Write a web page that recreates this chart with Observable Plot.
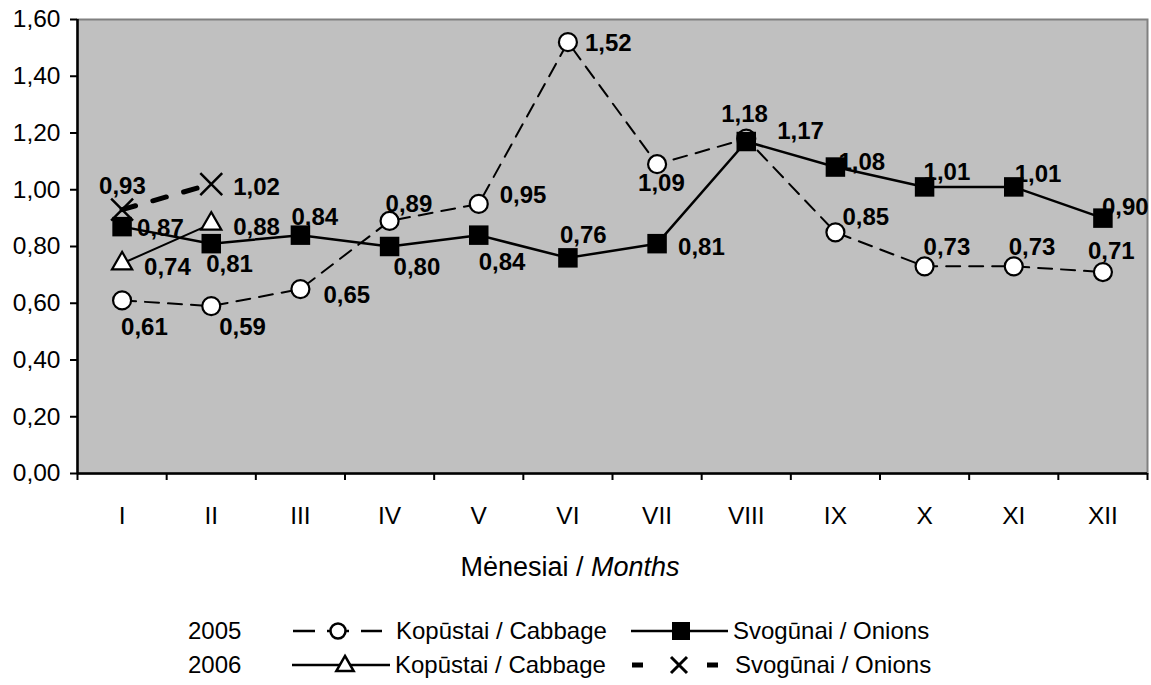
<!DOCTYPE html>
<html><head><meta charset="utf-8">
<script src="https://cdn.jsdelivr.net/npm/d3@7"></script>
<script src="https://cdn.jsdelivr.net/npm/@observablehq/plot@0.6"></script>
<style>
body{margin:0;background:#fff;font-family:"Liberation Sans",Arial,sans-serif;}
#chart{width:1151px;height:685px;position:relative;overflow:hidden;}
#chart svg{display:block;}
.ttl{position:absolute;font-size:27px;line-height:1;white-space:nowrap;color:#000;}
</style></head><body><div id="chart"></div>
<script>
const months = ["I","II","III","IV","V","VI","VII","VIII","IX","X","XI","XII"];
const cabbage2005 = [0.61,0.59,0.65,0.89,0.95,1.52,1.09,1.18,0.85,0.73,0.73,0.71];
const onions2005 = [0.87,0.81,0.84,0.80,0.84,0.76,0.81,1.17,1.08,1.01,1.01,0.90];
const cabbage2006 = [0.74,0.88];
const onions2006 = [0.93,1.02];
const yTicks = [0,0.2,0.4,0.6,0.8,1.0,1.2,1.4,1.6];
const legendYears = ["2005","2006"];
const legendCabbage = "Kopūstai / Cabbage";
const legendOnions = "Svogūnai / Onions";

// label offsets (pixels) for data labels
const offCab05 = [[-1,27],[8,21],[23,6],[-4,-17],[21,-9],[17,1],[-19,19],[-25,-24],[7,-15],[-1,-19],[-5,-19],[-15,-21]];
const offOn05 = [[15,2],[-5,21],[-9,-18],[4,21],[0,27],[-8,-23],[21,4],[31,-10],[3,-5],[-1,-15],[1,-13],[-1,-11]];
const offCab06 = [[22,4],[22,4]];
const offOn06 = [[-23,-23],[22,3]];

const fmt = v => v.toFixed(2).replace(".", ",");
const toRows = arr => arr.map((v,i)=>({x:i+0.5, y:v, i}));
const cab05 = toRows(cabbage2005), on05 = toRows(onions2005), cab06 = toRows(cabbage2006), on06 = toRows(onions2006);

function labels(rows, offs){
  return rows.map((r,k)=>Plot.text([r],{x:"x",y:"y",text:d=>fmt(d.y),dx:offs[k][0],dy:offs[k][1],
    textAnchor:"start",lineAnchor:"middle",fontWeight:"bold",fontSize:24,fill:"black"}));
}

const plot = Plot.plot({
  width:1151, height:540,
  marginLeft:77, marginRight:4, marginTop:19, marginBottom:67,
  style:{fontFamily:"'Liberation Sans', Arial, sans-serif", fontSize:"24px", background:"white", overflow:"visible"},
  x:{type:"linear", domain:[0,12]},
  y:{domain:[0,1.6]},
  marks:[
    Plot.frame({fill:"#c0c0c0", stroke:"#808080", strokeWidth:2}),
    Plot.axisY({ticks:yTicks, tickFormat:fmt, tickSize:7, tickPadding:10, label:null, fontSize:24.5, stroke:"black", strokeWidth:2}),
    Plot.axisX({ticks:d3.range(13), tickFormat:()=>"", tickSize:7, label:null, stroke:"black", strokeWidth:2}),
    Plot.axisX({ticks:months.map((m,i)=>i+0.5), tickFormat:(d)=>months[Math.round(d-0.5)], tickSize:0, tickPadding:33, label:null, fontSize:24.5}),
    Plot.ruleX([0],{stroke:"black", strokeWidth:2.5}),
    Plot.ruleY([0],{stroke:"black", strokeWidth:2.5}),
    Plot.line(cab05,{x:"x",y:"y",stroke:"black",strokeWidth:2,strokeDasharray:"14,9"}),
    Plot.dot(cab05,{x:"x",y:"y",r:9,fill:"white",stroke:"black",strokeWidth:2.2}),
    Plot.line(on05,{x:"x",y:"y",stroke:"black",strokeWidth:2.5}),
    Plot.dot(on05,{x:"x",y:"y",symbol:"square",r:11,fill:"black",stroke:"black",strokeWidth:0}),
    Plot.line(cab06,{x:"x",y:"y",stroke:"black",strokeWidth:2}),
    Plot.dot(cab06,{x:"x",y:"y",symbol:"triangle",r:7.5,fill:"white",stroke:"black",strokeWidth:2.2}),
    Plot.line(on06,{x:"x",y:"y",stroke:"black",strokeWidth:5,strokeDasharray:"14,18"}),
    Plot.dot(on06,{x:"x",y:"y",symbol:"times",r:10,stroke:"black",strokeWidth:2.5}),
    ...labels(cab05, offCab05),
    ...labels(on05, offOn05),
    ...labels(cab06, offCab06),
    ...labels(on06, offOn06)
  ]
});
const chart = document.getElementById("chart");
chart.appendChild(plot);

// axis title
const title = document.createElement("div");
title.className = "ttl";
title.style.left = "0px"; title.style.width = "1140px"; title.style.textAlign = "center";
title.style.top = "554px";
title.append("Mėnesiai / ");
const it = document.createElement("i"); it.textContent = "Months"; title.append(it);
chart.appendChild(title);

// legend
const leg = d3.select(chart).append("svg").attr("width",1151).attr("height",85)
  .style("position","absolute").style("left","0px").style("top","600px");
const rowsY = [31, 65];
const gText = (x,y,t)=>leg.append("text").attr("x",x).attr("y",y).attr("dy","0.35em")
  .attr("font-size",24).attr("font-family","'Liberation Sans', Arial, sans-serif").text(t);
gText(188, rowsY[0], legendYears[0]);
gText(188, rowsY[1], legendYears[1]);
// row1 sample 1: dashed + circle
leg.append("line").attr("x1",293).attr("x2",382).attr("y1",rowsY[0]).attr("y2",rowsY[0]).attr("stroke","black").attr("stroke-width",2.5).attr("stroke-dasharray","22,46");
leg.append("line").attr("x1",327).attr("x2",349).attr("y1",rowsY[0]).attr("y2",rowsY[0]).attr("stroke","black").attr("stroke-width",2.5);
leg.append("circle").attr("cx",338).attr("cy",rowsY[0]).attr("r",7.5).attr("fill","white").attr("stroke","black").attr("stroke-width",2.5);
gText(396, rowsY[0], legendCabbage);
// row1 sample 2: solid + square
leg.append("line").attr("x1",631).attr("x2",728).attr("y1",rowsY[0]).attr("y2",rowsY[0]).attr("stroke","black").attr("stroke-width",2.5);
leg.append("rect").attr("x",672).attr("y",rowsY[0]-9).attr("width",18).attr("height",18).attr("fill","black");
gText(733, rowsY[0], legendOnions);
// row2 sample 1: solid + triangle
leg.append("line").attr("x1",292).attr("x2",390).attr("y1",rowsY[1]).attr("y2",rowsY[1]).attr("stroke","black").attr("stroke-width",2.5);
leg.append("path").attr("d",d3.symbol(d3.symbolTriangle, 130)()).attr("transform",`translate(345,${rowsY[1]+1})`).attr("fill","white").attr("stroke","black").attr("stroke-width",2.5);
gText(395, rowsY[1], legendCabbage);
// row2 sample 2: thick dashes + X
leg.append("line").attr("x1",632).attr("x2",718).attr("y1",rowsY[1]).attr("y2",rowsY[1]).attr("stroke","black").attr("stroke-width",5).attr("stroke-dasharray","11,64");
leg.append("path").attr("d","M-8,-8L8,8M-8,8L8,-8").attr("transform",`translate(679,${rowsY[1]})`).attr("stroke","black").attr("stroke-width",3);
gText(735, rowsY[1], legendOnions);
</script></body></html>
